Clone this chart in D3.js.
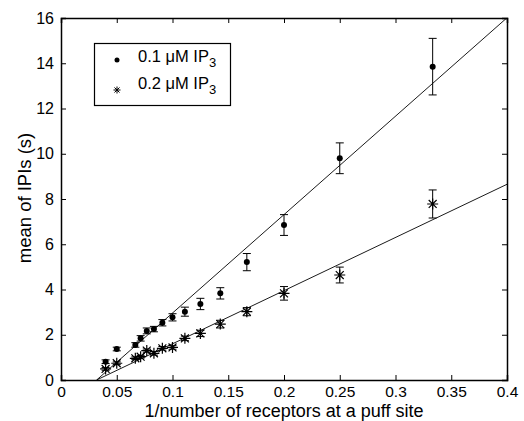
<!DOCTYPE html>
<html>
<head>
<meta charset="utf-8">
<script src="https://cdn.jsdelivr.net/npm/d3@7"></script>
<style>
body { margin: 0; background: #fff; }
text { font-family: "Liberation Sans", Arial, sans-serif; fill: #000; }
</style>
</head>
<body>
<script>
// x = 1/number of receptors
var xVals = [1/25, 1/20, 1/15, 1/14, 1/13, 1/12, 1/11, 1/10, 1/9, 1/8, 1/7, 1/6, 1/5, 1/4, 1/3];
// 0.1 uM IP3
var meanA = [0.81, 1.37, 1.55, 1.84, 2.17, 2.25, 2.53, 2.77, 3.02, 3.36, 3.83, 5.21, 6.85, 9.8, 13.85];
var errA  = [0.08, 0.08, 0.1, 0.12, 0.13, 0.12, 0.14, 0.16, 0.2, 0.25, 0.25, 0.38, 0.46, 0.68, 1.25];
// 0.2 uM IP3
var meanB = [0.49, 0.74, 0.96, 1.03, 1.30, 1.18, 1.40, 1.44, 1.84, 2.06, 2.47, 3.02, 3.83, 4.64, 7.78];
var errB  = [0.06, 0.06, 0.06, 0.06, 0.07, 0.08, 0.08, 0.08, 0.1, 0.14, 0.17, 0.18, 0.3, 0.35, 0.62];
// linear fits: y = slope*x + intercept
var fitSlope = [43.5, 23.5];
var fitIntercept = [-1.39, -0.75];
var legendLabels = ["0.1 \u03BCM IP", "0.2 \u03BCM IP"];
var xTicks = [0, 0.05, 0.1, 0.15, 0.2, 0.25, 0.3, 0.35, 0.4];
var yTicks = [0, 2, 4, 6, 8, 10, 12, 14, 16];

var width = 524, height = 421;
var margin = {left: 61, right: 17, top: 18, bottom: 41};
var w = width - margin.left - margin.right;
var h = height - margin.top - margin.bottom;

var x = d3.scaleLinear().domain([0, 0.4]).range([0, w]);
var y = d3.scaleLinear().domain([0, 16]).range([h, 0]);

var svg = d3.select("body").append("svg").attr("width", width).attr("height", height);
var g = svg.append("g").attr("transform", "translate(" + margin.left + "," + margin.top + ")");

svg.append("defs").append("clipPath").attr("id", "clip")
  .append("rect").attr("width", w).attr("height", h);

// axes with inward ticks
var xAxis = d3.axisBottom(x).tickValues(xTicks).tickSize(-5).tickPadding(6).tickFormat(d3.format("~g"));
var yAxis = d3.axisLeft(y).tickValues(yTicks).tickSize(-5).tickPadding(7);
var xTop = d3.axisTop(x).tickValues(xTicks).tickSize(-5).tickFormat("");
var yRight = d3.axisRight(y).tickValues(yTicks).tickSize(-5).tickFormat("");

var gx = g.append("g").attr("transform", "translate(0," + h + ")").call(xAxis);
var gy = g.append("g").call(yAxis);
g.append("g").call(xTop);
g.append("g").attr("transform", "translate(" + w + ",0)").call(yRight);
g.selectAll(".domain").attr("stroke", "#000").attr("stroke-width", 1.5);
g.selectAll(".tick line").attr("stroke", "#000");
g.selectAll(".tick text").style("font-family", "Liberation Sans, Arial, sans-serif");
gx.selectAll(".tick text").style("font-size", "15.5px");
gy.selectAll(".tick text").style("font-size", "16px");

// fit lines
var plot = g.append("g").attr("clip-path", "url(#clip)");
fitSlope.forEach(function(s, i){
  var x0 = -fitIntercept[i] / s;
  plot.append("line")
    .attr("x1", x(x0)).attr("y1", y(0))
    .attr("x2", x(0.4)).attr("y2", y(s * 0.4 + fitIntercept[i]))
    .attr("stroke", "#000").attr("stroke-width", 0.9);
});

function errorBars(means, errs) {
  xVals.forEach(function(xv, i){
    var cx = x(xv), top = y(means[i] + errs[i]), bot = y(means[i] - errs[i]);
    plot.append("line").attr("x1", cx).attr("x2", cx).attr("y1", top).attr("y2", bot)
      .attr("stroke", "#000").attr("stroke-width", 1);
    [top, bot].forEach(function(yy){
      plot.append("line").attr("x1", cx - 4).attr("x2", cx + 4).attr("y1", yy).attr("y2", yy)
        .attr("stroke", "#000").attr("stroke-width", 1);
    });
  });
}
errorBars(meanA, errA);
errorBars(meanB, errB);

function star(sel, cx, cy, r, sw) {
  var p = "M" + (cx - r) + "," + cy + "H" + (cx + r) +
          "M" + cx + "," + (cy - r) + "V" + (cy + r);
  var d = r * 0.72;
  p += "M" + (cx - d) + "," + (cy - d) + "L" + (cx + d) + "," + (cy + d) +
       "M" + (cx - d) + "," + (cy + d) + "L" + (cx + d) + "," + (cy - d);
  sel.append("path").attr("d", p).attr("stroke", "#000").attr("stroke-width", sw).attr("fill", "none");
}

xVals.forEach(function(xv, i){
  plot.append("circle").attr("cx", x(xv)).attr("cy", y(meanA[i])).attr("r", 3).attr("fill", "#000");
  star(plot, x(xv), y(meanB[i]), 5.5, 1.2);
});

// legend
var leg = svg.append("g");
leg.append("rect").attr("x", 94.5).attr("y", 43.5).attr("width", 136).attr("height", 62)
  .attr("fill", "#fff").attr("stroke", "#000").attr("stroke-width", 1.2);
leg.append("circle").attr("cx", 117).attr("cy", 60).attr("r", 2.5).attr("fill", "#000");
star(leg, 117, 90, 3.5, 1);
legendLabels.forEach(function(lab, i){
  var t = leg.append("text").attr("x", 138).attr("y", 62 + i * 27).style("font-size", "16.5px");
  t.append("tspan").text(lab);
  t.append("tspan").attr("dy", 5).style("font-size", "13px").text("3");
});

// axis titles
svg.append("text").attr("x", margin.left + w / 2).attr("y", 417).attr("text-anchor", "middle")
  .style("font-size", "18px").text("1/number of receptors at a puff site");
svg.append("text").attr("transform", "translate(31," + 198 + ") rotate(-90)")
  .attr("text-anchor", "middle").style("font-size", "18.5px").text("mean of IPIs (s)");
</script>
</body>
</html>
